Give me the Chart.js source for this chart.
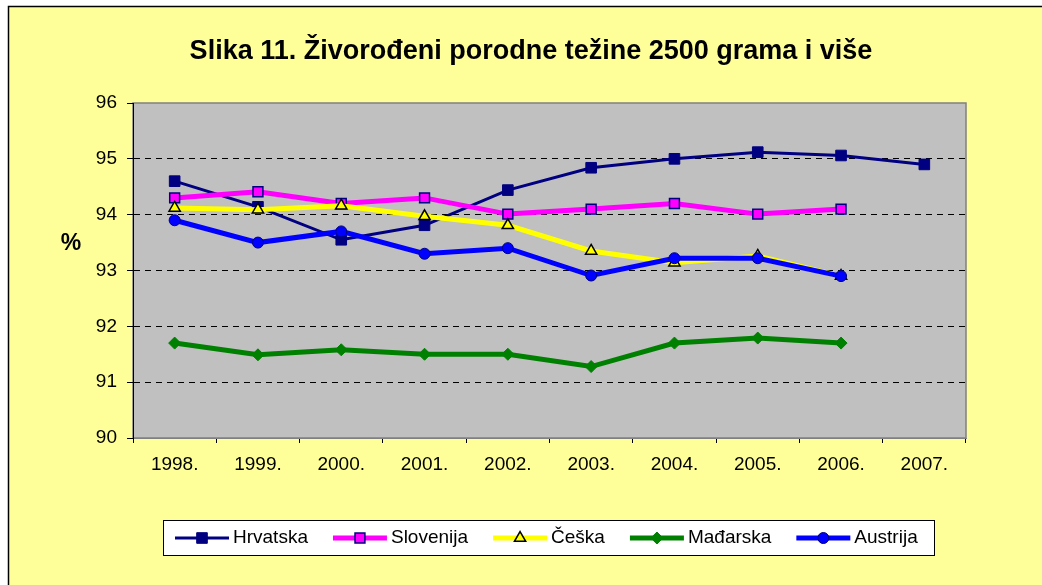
<!DOCTYPE html>
<html>
<head>
<meta charset="utf-8">
<script src="https://cdn.jsdelivr.net/npm/chart.js@4.4.1/dist/chart.umd.min.js"></script>
<style>
body { margin: 0; background: #fff; }
</style>
</head>
<body>
<canvas id="myChart" width="1042" height="585"></canvas>
<script>
var years = ['1998.', '1999.', '2000.', '2001.', '2002.', '2003.', '2004.', '2005.', '2006.', '2007.'];
var hrvatska = [94.6, 94.14, 93.55, 93.81, 94.44, 94.84, 95.0, 95.12, 95.06, 94.9];
var slovenija = [94.3, 94.41, 94.2, 94.3, 94.01, 94.1, 94.2, 94.01, 94.1, null];
var ceska = [94.12, 94.09, 94.16, 93.97, 93.81, 93.35, 93.14, 93.26, 92.9, null];
var madarska = [91.7, 91.49, 91.58, 91.5, 91.5, 91.28, 91.7, 91.79, 91.7, null];
var austrija = [93.9, 93.5, 93.7, 93.3, 93.4, 92.91, 93.22, 93.22, 92.9, null];
var yMin = 90;
var yMax = 96;
var chartTitle = 'Slika 11. Živorođeni porodne težine 2500 grama i više';
var yTitle = '%';

var fontFamily = '"Liberation Sans", Arial, sans-serif';
Chart.defaults.font.family = fontFamily;
Chart.defaults.color = '#000';

// draws one marker like chart.js point styles
function drawMarker(ctx, style, x, y, r, fill, stroke, bw) {
    ctx.save();
    ctx.beginPath();
    if (style == 'rect') {
        var s = r * Math.SQRT1_2;
        ctx.rect(x - s, y - s, 2 * s, 2 * s);
    } else if (style == 'triangle') {
        ctx.moveTo(x, y - r);
        ctx.lineTo(x + Math.sin(2 * Math.PI / 3) * r, y - Math.cos(2 * Math.PI / 3) * r);
        ctx.lineTo(x + Math.sin(4 * Math.PI / 3) * r, y - Math.cos(4 * Math.PI / 3) * r);
        ctx.closePath();
    } else if (style == 'rectRot') {
        ctx.moveTo(x - r, y);
        ctx.lineTo(x, y - r);
        ctx.lineTo(x + r, y);
        ctx.lineTo(x, y + r);
        ctx.closePath();
    } else {
        ctx.arc(x, y, r, 0, Math.PI * 2);
    }
    ctx.fillStyle = fill;
    ctx.fill();
    ctx.lineWidth = bw;
    ctx.strokeStyle = stroke;
    ctx.stroke();
    ctx.restore();
}

var excelLook = {
    id: 'excelLook',
    beforeDraw: function(chart) {
        var ctx = chart.ctx;
        var a = chart.chartArea;
        ctx.save();
        ctx.fillStyle = '#fff';
        ctx.fillRect(0, 0, chart.width, chart.height);
        ctx.fillStyle = '#FFFF99';
        ctx.fillRect(8, 6, chart.width - 8, chart.height - 6);
        ctx.strokeStyle = '#000';
        ctx.lineWidth = 1.5;
        ctx.beginPath();
        ctx.moveTo(8.5, chart.height);
        ctx.lineTo(8.5, 6.5);
        ctx.lineTo(chart.width, 6.5);
        ctx.stroke();
        // plot area
        ctx.fillStyle = '#C0C0C0';
        ctx.fillRect(a.left, a.top, a.right - a.left, a.bottom - a.top);
        ctx.strokeStyle = '#808080';
        ctx.lineWidth = 1.5;
        ctx.strokeRect(a.left, a.top, a.right - a.left, a.bottom - a.top);
        ctx.restore();
    },
    afterDraw: function(chart) {
        var ctx = chart.ctx;
        ctx.save();
        // title
        ctx.fillStyle = '#000';
        ctx.font = 'bold 27px ' + fontFamily;
        ctx.textAlign = 'center';
        ctx.textBaseline = 'alphabetic';
        ctx.fillText(chartTitle, 531, 58.5);
        // axis title
        ctx.font = 'bold 23px ' + fontFamily;
        ctx.textBaseline = 'middle';
        ctx.fillText(yTitle, 71, 244);

        // legend
        ctx.fillStyle = '#fff';
        ctx.fillRect(163.5, 520.5, 771, 35);
        ctx.strokeStyle = '#000';
        ctx.lineWidth = 1;
        ctx.strokeRect(163.5, 520.5, 771, 35);
        var x = 175;
        var ly = 538;
        ctx.font = '19px ' + fontFamily;
        ctx.textAlign = 'left';
        chart.data.datasets.forEach(function(ds) {
            ctx.strokeStyle = ds.borderColor;
            ctx.lineWidth = ds.borderWidth;
            ctx.beginPath();
            ctx.moveTo(x, ly);
            ctx.lineTo(x + 54, ly);
            ctx.stroke();
            drawMarker(ctx, ds.pointStyle, x + 27, ly, ds.pointRadius, ds.pointBackgroundColor, ds.pointBorderColor, ds.pointBorderWidth);
            ctx.fillStyle = '#000';
            ctx.fillText(ds.label, x + 58, ly);
            x += 58 + ctx.measureText(ds.label).width + 25;
        });
        ctx.restore();
    }
};

var ctx = document.getElementById('myChart').getContext('2d');
var chart = new Chart(ctx, {
    type: 'line',
    data: {
        labels: years,
        datasets: [{
            label: 'Hrvatska',
            data: hrvatska,
            borderColor: '#000080',
            backgroundColor: '#000080',
            borderWidth: 3,
            pointStyle: 'rect',
            pointRadius: 7.5,
            pointBackgroundColor: '#000080',
            pointBorderColor: '#000080',
            pointBorderWidth: 1,
            order: 5
        }, {
            label: 'Slovenija',
            data: slovenija,
            borderColor: '#FF00FF',
            backgroundColor: '#FF00FF',
            borderWidth: 5,
            pointStyle: 'rect',
            pointRadius: 7,
            pointBackgroundColor: '#FF00FF',
            pointBorderColor: '#000080',
            pointBorderWidth: 1.5,
            order: 4
        }, {
            label: 'Češka',
            data: ceska,
            borderColor: '#FFFF00',
            backgroundColor: '#FFFF00',
            borderWidth: 5,
            pointStyle: 'triangle',
            pointRadius: 6.5,
            pointBackgroundColor: '#FFFF00',
            pointBorderColor: '#000',
            pointBorderWidth: 1.5,
            order: 3
        }, {
            label: 'Mađarska',
            data: madarska,
            borderColor: '#008000',
            backgroundColor: '#008000',
            borderWidth: 5,
            pointStyle: 'rectRot',
            pointRadius: 6,
            pointBackgroundColor: '#008000',
            pointBorderColor: '#008000',
            pointBorderWidth: 1,
            order: 2
        }, {
            label: 'Austrija',
            data: austrija,
            borderColor: '#0000FF',
            backgroundColor: '#0000FF',
            borderWidth: 5,
            pointStyle: 'circle',
            pointRadius: 5.5,
            pointBackgroundColor: '#0000FF',
            pointBorderColor: '#000080',
            pointBorderWidth: 1,
            order: 1
        }]
    },
    options: {
        responsive: false,
        animation: false,
        layout: { padding: { top: 103, right: 76, bottom: 102, left: 0 } },
        plugins: {
            legend: { display: false },
            title: { display: false },
            tooltip: { enabled: false }
        },
        scales: {
            x: {
                offset: true,
                grid: { offset: true, drawOnChartArea: false, tickLength: 5, tickColor: '#000', color: '#000' },
                border: { color: '#808080', width: 1 },
                ticks: { color: '#000', font: { size: 19 }, padding: 10, maxRotation: 0, autoSkip: false },
                afterFit: function(scale) { scale.height = 45; }
            },
            y: {
                min: yMin,
                max: yMax,
                ticks: { stepSize: 1, color: '#000', font: { size: 19 }, padding: 10 },
                grid: {
                    color: function(c) {
                        if (c.tick && (c.tick.value == yMin || c.tick.value == yMax)) return 'rgba(0,0,0,0)';
                        return '#000';
                    },
                    tickColor: '#000',
                    tickLength: 6,
                    lineWidth: 1
                },
                border: { color: '#000', width: 1, dash: [6, 5] },
                afterFit: function(scale) { scale.width = 133; }
            }
        }
    },
    plugins: [excelLook]
});
</script>
</body>
</html>
